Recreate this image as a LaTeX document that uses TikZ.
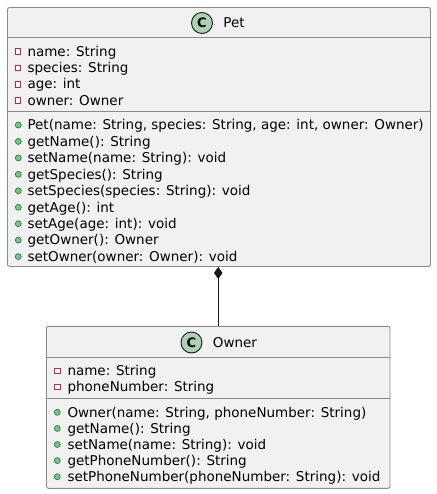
\documentclass[tikz,border=0pt]{standalone}
\usepackage{fontspec}
\setmainfont{DejaVu Sans}
\usetikzlibrary{arrows.meta}

\definecolor{boxfill}{HTML}{F1F1F1}
\definecolor{boxline}{HTML}{181818}
\definecolor{sepgray}{HTML}{8A8A8A}
\definecolor{spotfill}{HTML}{ADD1B2}
\definecolor{privred}{HTML}{C82930}
\definecolor{pubfill}{HTML}{84BE84}
\definecolor{publine}{HTML}{038048}

\begin{document}
\begin{tikzpicture}[x=1pt,y=-1pt,
			class box/.style={draw=sepgray,line width=0.9pt,fill=boxfill,rounded corners=2pt,inner sep=0pt},
			sep line/.style={draw=sepgray,line width=0.9pt},
			spot node/.style={circle,draw=boxline,line width=0.9pt,fill=spotfill,minimum size=21pt,inner sep=0pt,font=\fontsize{13}{13}\selectfont\bfseries},
			title node/.style={inner sep=0pt,font=\fontsize{13.5}{14}\selectfont},
			member node/.style={anchor=base west,inner sep=0pt,font=\fontsize{13.5}{14}\selectfont},
			priv mark/.style={rectangle,draw=privred,line width=0.8pt,fill=white,minimum size=5.5pt,inner sep=0pt},
			pub mark/.style={circle,draw=publine,line width=0.6pt,fill=pubfill,minimum size=6pt,inner sep=0pt},
			comp/.style={draw=boxline,line width=0.8pt,-{Diamond[length=12pt,width=8.5pt]}}
			]
			
			\useasboundingbox (0,0) rectangle (436,494);
			
			\def \s {16.3};
			
			% Pet
			\node[class box,minimum width=423pt,minimum height=259pt] at (219,137) (pet) {};
			\draw[sep line] ([yshift=-30.5pt]pet.north west) -- ([yshift=-30.5pt]pet.north east);
			\draw[sep line] ([yshift=-104.5pt]pet.north west) -- ([yshift=-104.5pt]pet.north east);
			\node[spot node] at (202,23) (petspot) {C};
			\node[title node] at (234,23) (pettitle) {Pet};
			
			\foreach \t [count=\i] in {name: String, species: String, age: int, owner: Owner} {
				\node[priv mark] at (18,{51.6+\s*(\i-1)}) (pa\i) {};
				\node[member node] at (27.3,{56.4+\s*(\i-1)}) (pat\i) {\t};
			}
			\foreach \t [count=\i] in {{Pet(name: String, species: String, age: int, owner: Owner)}, getName(): String, setName(name: String): void, getSpecies(): String, setSpecies(species: String): void, getAge(): int, setAge(age: int): void, getOwner(): Owner, setOwner(owner: Owner): void} {
				\node[pub mark] at (18.3,{125+16.45*(\i-1)}) (pm\i) {};
				\node[member node] at (27.3,{129.8+16.45*(\i-1)}) (pmt\i) {\t};
			}
			
			% Owner
			\node[class box,minimum width=343.5pt,minimum height=162pt] at (218.25,407.3) (owner) {};
			\draw[sep line] ([yshift=-31.5pt]owner.north west) -- ([yshift=-31.5pt]owner.north east);
			\draw[sep line] ([yshift=-72.7pt]owner.north west) -- ([yshift=-72.7pt]owner.north east);
			\node[spot node] at (191.5,342.5) (ownerspot) {C};
			\node[title node] at (235,342.5) (ownertitle) {Owner};
			
			\foreach \t [count=\i] in {name: String, phoneNumber: String} {
				\node[priv mark] at (57.3,{370.7+\s*(\i-1)}) (oa\i) {};
				\node[member node] at (67.3,{375.5+\s*(\i-1)}) (oat\i) {\t};
			}
			\foreach \t [count=\i] in {{Owner(name: String, phoneNumber: String)}, getName(): String, setName(name: String): void, getPhoneNumber(): String, setPhoneNumber(phoneNumber: String): void} {
				\node[pub mark] at (57.3,{412.3+16.1*(\i-1)}) (om\i) {};
				\node[member node] at (67.3,{417.1+16.1*(\i-1)}) (omt\i) {\t};
			}
			
			\draw[comp] (owner.north) -- (owner.north |- pet.south);
			\end{tikzpicture}
\end{document}
